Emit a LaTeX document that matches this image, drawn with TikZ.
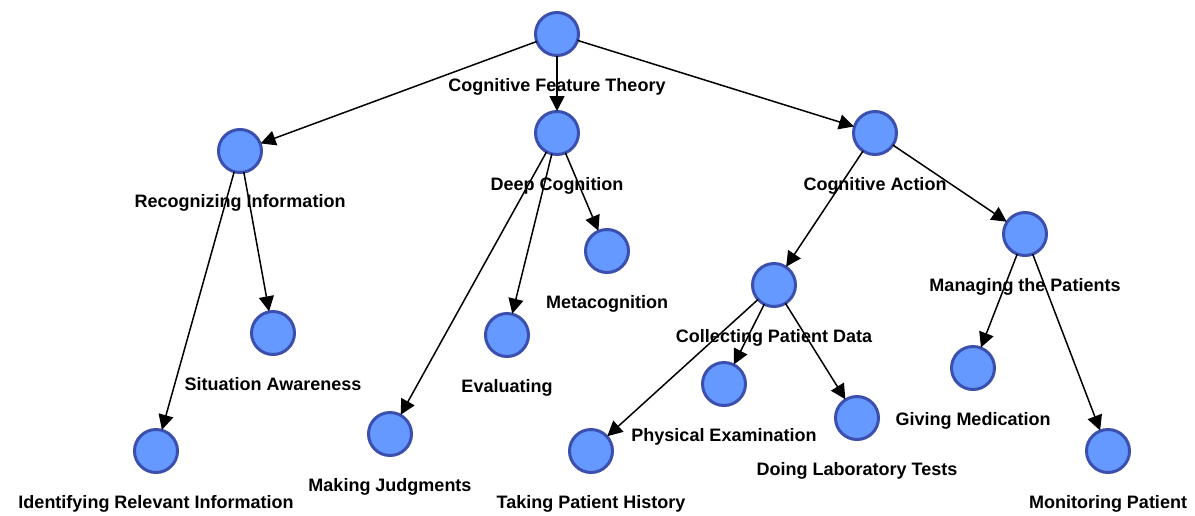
\documentclass[tikz,border=0pt]{standalone}
\usepackage{fontspec}
\setmainfont{Liberation Sans}
\usetikzlibrary{arrows.meta}
\definecolor{cfill}{HTML}{6699FF}
\definecolor{cline}{HTML}{3A4FAE}
\tikzset{
  circ/.style={circle, draw=cline, fill=cfill, line width=3pt, minimum size=43pt, inner sep=0pt, outer sep=0pt},
  lbl/.style={anchor=base, font=\fontsize{18}{20}\selectfont\bfseries, inner sep=0pt},
  conn/.style={line width=1.5pt, -{Triangle[length=15pt,width=15pt]}, shorten >=0.5pt}
}
\begin{document}
\begin{tikzpicture}[x=1pt,y=-1pt]
\useasboundingbox (0,0) rectangle (1195,515);
% nodes
\node[circ] (root) at (557,34) {};
\node[circ] (rec) at (240,151) {};
\node[circ] (deep) at (557,133) {};
\node[circ] (act) at (875,133) {};
\node[circ] (sit) at (273,333) {};
\node[circ] (ident) at (156,451) {};
\node[circ] (judg) at (390,434) {};
\node[circ] (eval) at (507,335) {};
\node[circ] (meta) at (607,251) {};
\node[circ] (coll) at (774,285) {};
\node[circ] (manag) at (1025,234) {};
\node[circ] (phys) at (724,384) {};
\node[circ] (lab) at (857,418) {};
\node[circ] (take) at (591,451) {};
\node[circ] (give) at (973,368) {};
\node[circ] (monit) at (1108,451) {};
% edges
\draw[conn] (root) -- (rec);
\draw[conn] (root) -- (deep);
\draw[conn] (root) -- (act);
\draw[conn] (rec) -- (sit);
\draw[conn] (rec) -- (ident);
\draw[conn] (deep) -- (judg);
\draw[conn] (deep) -- (eval);
\draw[conn] (deep) -- (meta);
\draw[conn] (act) -- (coll);
\draw[conn] (act) -- (manag);
\draw[conn] (coll) -- (take);
\draw[conn] (coll) -- (phys);
\draw[conn] (coll) -- (lab);
\draw[conn] (manag) -- (give);
\draw[conn] (manag) -- (monit);
% labels
\node[lbl] (lroot) at ([yshift=-57pt]root.center) {Cognitive Feature Theory};
\node[lbl] (lrec) at ([yshift=-56pt]rec.center) {Recognizing Information};
\node[lbl] (ldeep) at ([yshift=-57pt]deep.center) {Deep Cognition};
\node[lbl] (lact) at ([yshift=-57pt]act.center) {Cognitive Action};
\node[lbl] (lsit) at ([yshift=-57pt]sit.center) {Situation Awareness};
\node[lbl] (lident) at ([yshift=-57pt]ident.center) {Identifying Relevant Information};
\node[lbl] (ljudg) at ([yshift=-57pt]judg.center) {Making Judgments};
\node[lbl] (leval) at ([yshift=-57pt]eval.center) {Evaluating};
\node[lbl] (lmeta) at ([yshift=-57pt]meta.center) {Metacognition};
\node[lbl] (lcoll) at ([yshift=-57pt]coll.center) {Collecting Patient Data};
\node[lbl] (lmanag) at ([yshift=-57pt]manag.center) {Managing the Patients};
\node[lbl] (lphys) at ([yshift=-57pt]phys.center) {Physical Examination};
\node[lbl] (llab) at ([yshift=-57pt]lab.center) {Doing Laboratory Tests};
\node[lbl] (ltake) at ([yshift=-57pt]take.center) {Taking Patient History};
\node[lbl] (lgive) at ([yshift=-57pt]give.center) {Giving Medication};
\node[lbl] (lmonit) at ([yshift=-57pt]monit.center) {Monitoring Patient};
\end{tikzpicture}
\end{document}
